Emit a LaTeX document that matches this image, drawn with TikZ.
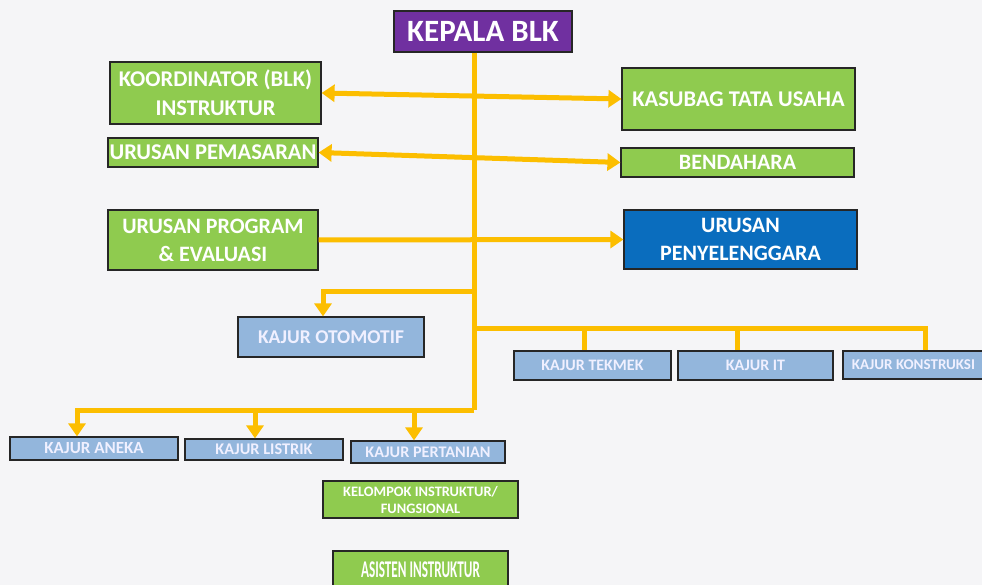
\documentclass[tikz,border=0pt]{standalone}
\usepackage{fontspec}
\setmainfont{Carlito}
\usetikzlibrary{arrows.meta}
\definecolor{bgc}{HTML}{F5F5F7}
\definecolor{purp}{HTML}{7030A0}
\definecolor{grn}{HTML}{8FCB4F}
\definecolor{blu}{HTML}{0A6DBE}
\definecolor{lblu}{HTML}{93B6DC}
\definecolor{org}{HTML}{FCBE00}
\newcommand{\cnd}[2]{\scalebox{#1}[1]{#2}}
\tikzset{
  box/.style={draw=black!85, line width=1.2pt, text=white, align=center, inner sep=0pt, font=\bfseries},
  gbox/.style={box, fill=grn},
  bbox/.style={box, fill=lblu, text=white!94!blue},
  conn/.style={draw=org, line width=5pt},
  tip/.style={-{Triangle[length=13pt,width=17pt]}},
  btip/.style={{Triangle[length=13pt,width=17pt]}-{Triangle[length=13pt,width=17pt]}},
}
\begin{document}
\begin{tikzpicture}[x=1pt,y=-1pt]
\useasboundingbox (0,0) rectangle (982,585);
\clip (0,0) rectangle (982,585);
\fill[bgc] (0,0) rectangle (982,585);

% nodes
\node[box, fill=purp, minimum width=178pt, minimum height=41pt, font=\bfseries\fontsize{31}{34}\selectfont] (kepala) at (483,31.5) {KEPALA BLK};
\node[gbox, minimum width=211pt, minimum height=62pt, font=\bfseries\fontsize{22.5}{29}\selectfont] (koord) at (215.5,93) {KOORDINATOR (BLK)\\INSTRUKTUR};
\node[gbox, minimum width=210pt, minimum height=29pt, font=\bfseries\fontsize{22.5}{24}\selectfont] (pemasaran) at (213,152.5) {URUSAN PEMASARAN};
\node[gbox, minimum width=210pt, minimum height=60pt, font=\bfseries\fontsize{22}{28}\selectfont] (program) at (213,240) {URUSAN PROGRAM\\\& EVALUASI};
\node[gbox, minimum width=233pt, minimum height=62pt, font=\bfseries\fontsize{22.5}{24}\selectfont] (kasubag) at (738.5,99) {KASUBAG TATA USAHA};
\node[gbox, minimum width=233pt, minimum height=29pt, font=\bfseries\fontsize{22}{24}\selectfont] (bendahara) at (737.5,162.5) {BENDAHARA};
\node[box, fill=blu, minimum width=233pt, minimum height=59pt, font=\bfseries\fontsize{22}{28}\selectfont] (penyeleng) at (740.5,239.5) {URUSAN\\PENYELENGGARA};

\node[bbox, minimum width=186pt, minimum height=40pt, font=\bfseries\fontsize{19.5}{22}\selectfont] (otomotif) at (331,337) {KAJUR OTOMOTIF};
\node[bbox, minimum width=157pt, minimum height=29pt, font=\bfseries\fontsize{16}{18}\selectfont] (tekmek) at (592.5,365.5) {KAJUR TEKMEK};
\node[bbox, minimum width=155pt, minimum height=29pt, font=\bfseries\fontsize{16}{18}\selectfont] (it) at (755.5,365.5) {KAJUR IT};
\node[bbox, minimum width=141pt, minimum height=28pt, font=\bfseries\fontsize{15}{18}\selectfont] (konstruksi) at (913.5,365) {KAJUR KONSTRUKSI};

\node[bbox, minimum width=168pt, minimum height=23pt, font=\bfseries\fontsize{17}{18}\selectfont] (aneka) at (94,448.5) {KAJUR ANEKA};
\node[bbox, minimum width=158pt, minimum height=21pt, font=\bfseries\fontsize{16.3}{18}\selectfont] (listrik) at (264,449.5) {KAJUR LISTRIK};
\node[bbox, minimum width=154pt, minimum height=22pt, font=\bfseries\fontsize{16.2}{18}\selectfont] (pertanian) at (428,452) {KAJUR PERTANIAN};

\node[gbox, minimum width=195pt, minimum height=37pt, font=\bfseries\fontsize{14.4}{17}\selectfont] (kelompok) at (420.5,499.5) {KELOMPOK INSTRUKTUR/\\FUNGSIONAL};
\node[gbox, minimum width=175pt, minimum height=38pt, font=\bfseries\fontsize{24}{24}\selectfont] (asisten) at (420.5,570) {\cnd{0.55}{ASISTEN INSTRUKTUR}};

% connectors
\coordinate (t0) at ([xshift=-9pt]kepala.south);
\coordinate (tb) at (t0 |- 0,410);
\draw[conn] (t0) -- (tb);
\draw[conn, btip] (koord.east) -- (kasubag.west);
\draw[conn, btip] (pemasaran.east) -- (bendahara.west);
\draw[conn, tip] (program.east) -- (penyeleng.west);

\coordinate (o1) at (t0 |- 0,291);
\coordinate (o2) at (otomotif.north -| 323,0);
\draw[conn, tip] (o1) -- (o2 |- o1) -- (o2);

\coordinate (r1) at (t0 |- 0,328);
\coordinate (r2) at (konstruksi.north -| 925,0);
\coordinate (r3) at (tekmek.north -| 584,0);
\coordinate (r4) at (it.north -| 737,0);
\draw[conn] (r1) -- (r2 |- r1) -- (r2);
\draw[conn] (r3 |- r1) -- (r3);
\draw[conn] (r4 |- r1) -- (r4);

\coordinate (a1) at (aneka.north -| 77,0);
\coordinate (a2) at (listrik.north -| 255,0);
\coordinate (a3) at (pertanian.north -| 414,0);
\draw[conn, tip] (tb) -- (a1 |- tb) -- (a1);
\draw[conn, tip] (a2 |- tb) -- (a2);
\draw[conn, tip] (a3 |- tb) -- (a3);
\end{tikzpicture}
\end{document}
